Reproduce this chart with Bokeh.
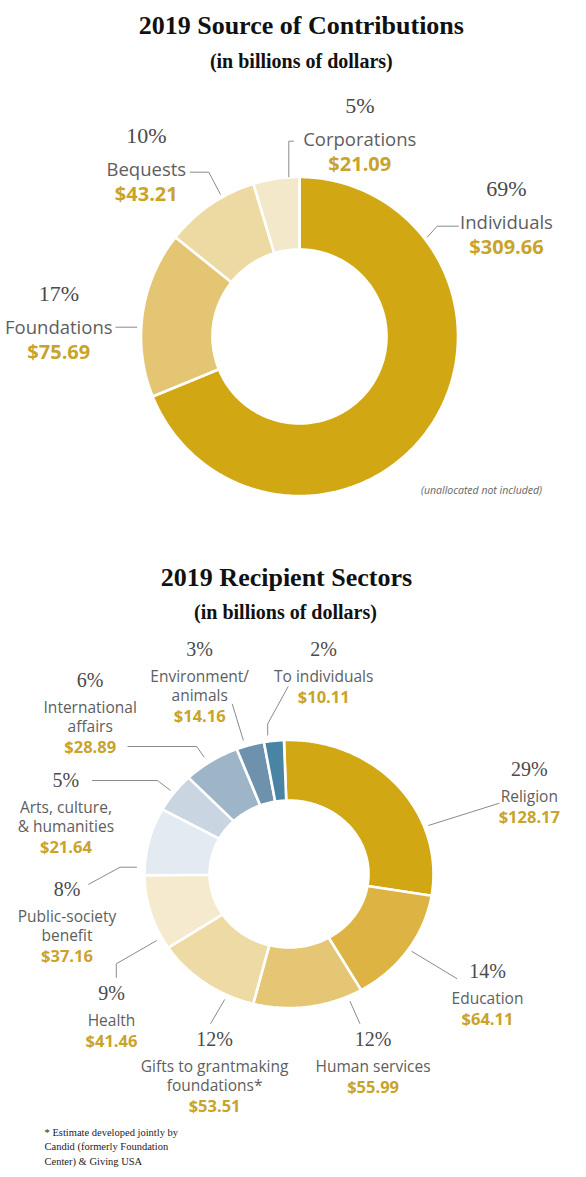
import math
from bokeh.plotting import figure
from bokeh.models import Range1d, ColumnDataSource
from bokeh.embed import file_html
from bokeh.resources import INLINE
from bokeh.core.properties import value

# ---------------- data: 2019 source of contributions ----------------
src_names = ["Individuals", "Foundations", "Bequests", "Corporations"]
src_values = [309.66, 75.69, 43.21, 21.09]
src_pcts = ["69%", "17%", "10%", "5%"]
src_colors = ["#D1A713", "#E4C574", "#EDD9A2", "#F4E8CB"]

# ---------------- data: 2019 recipient sectors ----------------
rec_names = ["Religion", "Education", "Human services",
             "Gifts to grantmaking\nfoundations*", "Health",
             "Public-society\nbenefit", "Arts, culture,\n& humanities",
             "International\naffairs", "Environment/\nanimals", "To individuals"]
rec_values = [128.17, 64.11, 55.99, 53.51, 41.46, 37.16, 21.64, 28.89, 14.16, 10.11]
rec_pcts = ["29%", "14%", "12%", "12%", "9%", "8%", "5%", "6%", "3%", "2%"]
rec_colors = ["#D1A713", "#DDB444", "#E5C674", "#EEDAA4", "#F5EACE",
              "#E3EAF1", "#C9D6E1", "#9EB5C8", "#6E92AE", "#4A84A5"]

footnote_lines = ["* Estimate developed jointly by",
                  "Candid (formerly Foundation",
                  "Center) & Giving USA"]

# ---------------- layout (picture pixel positions) ----------------
W, H = 578, 1169
top_geo = dict(cx=299, cy=336, rxo=158.5, ryo=159.5, rxi=87, ryi=87, start=0.0)
bot_geo = dict(cx=288.5, cy=873.5, rxo=144.5, ryo=134, rxi=79.5, ryi=73.5, start=-2.0)

src_lx = [506, 58.3, 145.8, 359.3]
src_ly = [188.3, 293.3, 135, 105]
src_leaders = [[(426.7, 236.7), (436.7, 225.7), (458.3, 225.7)],
               [(115, 326.7), (136.7, 326.7)],
               [(189.3, 171.7), (208.3, 171.7), (220, 194)],
               [(288.3, 176.7), (288.3, 140.7), (293.3, 140.7)]]

rec_lx = [528.8, 487, 372.6, 214.1, 111, 66.5, 65.4, 89.7, 199.2, 323.2]
rec_ly = [768.3, 970, 1038.3, 1038.3, 992.7, 888.3, 779.3, 679, 648.3, 648.3]
rec_leaders = [[(498.9, 802.7), (427.9, 825)],
               [(456.7, 978.3), (411, 950.7)],
               [(359.5, 1023.3), (349.4, 1000.7)],
               [(210, 1023.3), (224.2, 999)],
               [(115.8, 977.3), (115.8, 963.3), (156.2, 940)],
               [(87.8, 884), (119.6, 866.7), (136.4, 866.7)],
               [(91.6, 780), (157, 780), (170, 790)],
               [(127, 746), (196.2, 746), (203.7, 756.7)],
               [(231.7, 703.3), (242.9, 740)],
               [(287.7, 686), (267.2, 723.3), (267.2, 735)]]

PCT_COLOR = "#4a4a4a"
LBL_COLOR = "#5e5e5e"
VAL_COLOR = "#C9A32A"
LEAD_COLOR = "#8a8a8a"
SERIF = "Liberation Serif"
SANS = "Open Sans"

p = figure(width=W, height=H, output_backend="svg", toolbar_location=None,
           x_range=Range1d(0, W), y_range=Range1d(H, 0),
           min_border=0, outline_line_color=None, background_fill_color="white")
p.axis.visible = False
p.grid.visible = False


def ring(values, colors, g):
    total = float(sum(values))
    xs, ys = [], []
    acc = 0.0
    for v in values:
        a0 = math.radians(g["start"] + 360.0 * acc / total)
        acc += v
        a1 = math.radians(g["start"] + 360.0 * acc / total)
        n = max(4, int(abs(a1 - a0) / math.radians(1.0)))
        outer = [(g["cx"] + g["rxo"] * math.sin(a0 + (a1 - a0) * k / n),
                  g["cy"] - g["ryo"] * math.cos(a0 + (a1 - a0) * k / n)) for k in range(n + 1)]
        inner = [(g["cx"] + g["rxi"] * math.sin(a1 - (a1 - a0) * k / n),
                  g["cy"] - g["ryi"] * math.cos(a1 - (a1 - a0) * k / n)) for k in range(n + 1)]
        pts = outer + inner
        xs.append([q[0] for q in pts])
        ys.append([q[1] for q in pts])
    src = ColumnDataSource(dict(xs=xs, ys=ys, color=colors))
    p.patches("xs", "ys", source=src, fill_color="color", line_color="white", line_width=2.6)


def leaders(lines):
    p.multi_line([[q[0] for q in l] for l in lines], [[q[1] for q in l] for l in lines],
                 line_color=LEAD_COLOR, line_width=1)


def txt(xs, ys, texts, font, size, color, bold=False, italic=False, align="center"):
    style = "bold" if bold else ("italic" if italic else "normal")
    p.text(x=xs, y=ys, text=texts, text_font=value(font), text_font_size=value(size),
           text_color=color, text_align=align, text_baseline="middle", text_font_style=style)


def labels(names, vals, pcts, lx, ly, gap, line_h, vgap, pct_size, lbl_size, val_size):
    px, py, pt = [], [], []
    nx, ny, nt = [], [], []
    vx, vy, vt = [], [], []
    for name, v, pc, x, y in zip(names, vals, pcts, lx, ly):
        px.append(x); py.append(y); pt.append(pc)
        yy = y + gap
        parts = name.split("\n")
        for i, part in enumerate(parts):
            nx.append(x); ny.append(yy + i * line_h); nt.append(part)
        last = yy + (len(parts) - 1) * line_h
        vx.append(x); vy.append(last + vgap); vt.append("$%.2f" % v)
    txt(px, py, pt, SERIF, pct_size, PCT_COLOR)
    txt(nx, ny, nt, SANS, lbl_size, LBL_COLOR)
    txt(vx, vy, vt, SANS, val_size, VAL_COLOR, bold=True)


# ---------- top chart ----------
txt([300.8], [25], ["2019 Source of Contributions"], SERIF, "26px", "#111111", bold=True)
txt([300.8], [60], ["(in billions of dollars)"], SERIF, "20px", "#111111", bold=True)
ring(src_values, src_colors, top_geo)
leaders(src_leaders)
labels(src_names, src_values, src_pcts, src_lx, src_ly, 33, 20, 25, "22px", "18.5px", "20px")
txt([481], [489.3], ["(unallocated not included)"], SANS, "10.5px", "#666666", italic=True)

# ---------- bottom chart ----------
txt([286], [576.7], ["2019 Recipient Sectors"], SERIF, "26px", "#111111", bold=True)
txt([285], [611.7], ["(in billions of dollars)"], SERIF, "20px", "#111111", bold=True)
ring(rec_values, rec_colors, bot_geo)
leaders(rec_leaders)
labels(rec_names, rec_values, rec_pcts, rec_lx, rec_ly, 27, 19.5, 20.5, "20px", "15.5px", "16.5px")

txt([44] * 3, [1131.7, 1146, 1160.7], footnote_lines, SERIF, "10.5px", "#222222", align="left")

open("out.html", "w").write(file_html(p, INLINE))
